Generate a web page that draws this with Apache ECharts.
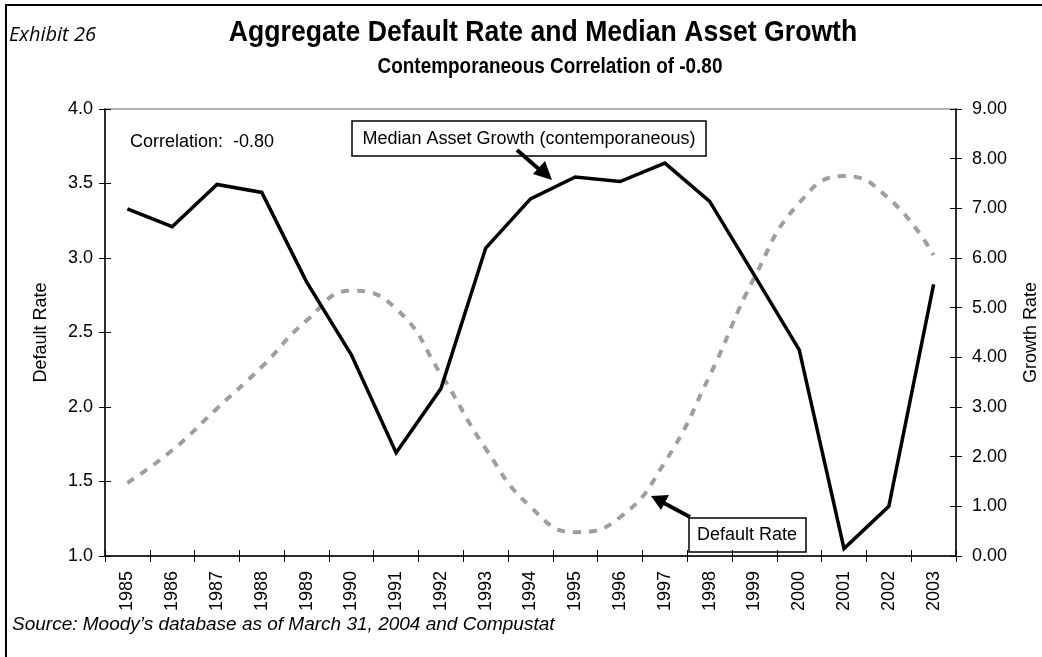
<!DOCTYPE html>
<html>
<head>
<meta charset="utf-8">
<script src="https://cdn.jsdelivr.net/npm/echarts@6/dist/echarts.min.js"></script>
<style>
  html, body { margin: 0; padding: 0; background: #fff; }
  #chart { width: 1042px; height: 657px; }
</style>
</head>
<body>
<div id="chart"></div>
<script>
  const years = ['1985','1986','1987','1988','1989','1990','1991','1992','1993','1994',
                 '1995','1996','1997','1998','1999','2000','2001','2002','2003'];
  const defaultRate = [1.49, 1.71, 1.99, 2.27, 2.58, 2.78, 2.66, 2.22, 1.72, 1.33,
                       1.16, 1.26, 1.63, 2.21, 2.87, 3.37, 3.55, 3.40, 3.02];
  const assetGrowth = [6.99, 6.63, 7.48, 7.32, 5.52, 4.05, 2.08, 3.37, 6.20, 7.19,
                       7.63, 7.54, 7.91, 7.14, 5.65, 4.15, 0.15, 1.00, 5.47];

  const FONT = '"Liberation Sans", Arial, sans-serif';

  let chart = echarts.init(document.getElementById('chart'));

  // plain category axis, second copy only draws the inner half of the ticks
  function xAx(inner) {
    return {
      type: 'category',
      data: years,
      boundaryGap: true,
      position: 'bottom',
      axisLine: { show: !inner, lineStyle: { color: '#000', width: 1.5 } },
      axisTick: { show: true, inside: inner, length: 6, lineStyle: { color: '#000' } },
      axisLabel: {
        show: !inner,
        rotate: 90,
        margin: 15,
        color: '#000',
        fontFamily: FONT,
        fontSize: 18
      },
      splitLine: { show: false }
    };
  }

  function yAx(side, min, max, step, digits, name, inner) {
    return {
      type: 'value',
      position: side,
      min: min,
      max: max,
      interval: step,
      name: inner ? '' : name,
      nameLocation: 'middle',
      nameRotate: 90,
      nameGap: side === 'left' ? 55 : 66,
      nameTextStyle: { color: '#000', fontFamily: FONT, fontSize: 18 },
      axisLine: { show: !inner, lineStyle: { color: '#000', width: 1.5 } },
      axisTick: { show: true, inside: inner, length: 6, lineStyle: { color: '#000' } },
      axisLabel: {
        show: !inner,
        margin: side === 'left' ? 12 : 16,
        color: '#000',
        fontFamily: FONT,
        fontSize: 18,
        formatter: v => v.toFixed(digits)
      },
      splitLine: { show: false }
    };
  }

  let option = {
    animation: false,
    backgroundColor: '#fff',
    grid: {
      left: 105,
      right: 86,
      top: 109,
      bottom: 101,
      containLabel: false,
      outerBoundsMode: 'none',
      show: true,
      borderColor: '#999',
      borderWidth: 1.5
    },
    xAxis: [xAx(false), xAx(true)],
    yAxis: [
      yAx('left', 1, 4, 0.5, 1, 'Default Rate', false),
      yAx('right', 0, 9, 1, 2, 'Growth Rate', false),
      yAx('left', 1, 4, 0.5, 1, '', true),
      yAx('right', 0, 9, 1, 2, '', true)
    ],
    series: [
      {
        name: 'Default Rate',
        type: 'line',
        data: defaultRate,
        yAxisIndex: 0,
        smooth: 0.5,
        symbol: 'none',
        lineStyle: { color: '#9e9e9e', width: 4, type: [8, 8], cap: 'butt' }
      },
      {
        name: 'Median Asset Growth',
        type: 'line',
        data: assetGrowth,
        yAxisIndex: 1,
        symbol: 'none',
        lineStyle: { color: '#000', width: 3.5, join: 'miter' }
      }
    ],
    graphic: [
      // exhibit frame
      {
        type: 'polyline',
        shape: { points: [[6, 657], [6, 5], [1042, 5]] },
        style: { stroke: '#000', lineWidth: 2, fill: null }
      },
      {
        type: 'text', x: 9, y: 35,
        style: { text: 'Exhibit 26', fill: '#000', font: 'italic 20px "Open Sans", sans-serif',
                 verticalAlign: 'middle' }
      },
      // titles are condensed in the original, so squeeze them horizontally
      {
        type: 'text', x: 543, y: 33, scaleX: 0.887, originX: 0, originY: 0,
        style: { text: 'Aggregate Default Rate and Median Asset Growth', fill: '#000',
                 font: 'bold 30px ' + FONT, align: 'center', verticalAlign: 'middle' }
      },
      {
        type: 'text', x: 550, y: 67, scaleX: 0.86, originX: 0, originY: 0,
        style: { text: 'Contemporaneous Correlation of -0.80', fill: '#000',
                 font: 'bold 22px ' + FONT, align: 'center', verticalAlign: 'middle' }
      },
      {
        type: 'text', x: 130, y: 142,
        style: { text: 'Correlation:  -0.80', fill: '#000', font: '18px ' + FONT, verticalAlign: 'middle' }
      },
      // callout: median asset growth
      {
        type: 'rect',
        shape: { x: 352, y: 121, width: 354, height: 35 },
        style: { fill: '#fff', stroke: '#000', lineWidth: 1.5 }
      },
      {
        type: 'text', x: 529, y: 139,
        style: { text: 'Median Asset Growth (contemporaneous)', fill: '#000', font: '18px ' + FONT,
                 align: 'center', verticalAlign: 'middle' }
      },
      {
        type: 'line',
        shape: { x1: 517, y1: 150, x2: 541, y2: 171 },
        style: { stroke: '#000', lineWidth: 4 }
      },
      {
        type: 'polygon',
        shape: { points: [[552, 180], [533, 174], [545, 161]] },
        style: { fill: '#000' }
      },
      // callout: default rate
      {
        type: 'rect',
        shape: { x: 689, y: 518, width: 117, height: 34 },
        style: { fill: '#fff', stroke: '#000', lineWidth: 1.5 }
      },
      {
        type: 'text', x: 747, y: 535,
        style: { text: 'Default Rate', fill: '#000', font: '18px ' + FONT,
                 align: 'center', verticalAlign: 'middle' }
      },
      {
        type: 'line',
        shape: { x1: 690, y1: 517, x2: 662, y2: 502 },
        style: { stroke: '#000', lineWidth: 4 }
      },
      {
        type: 'polygon',
        shape: { points: [[651, 496], [669, 495], [661, 510]] },
        style: { fill: '#000' }
      },
      {
        type: 'text', x: 12, y: 625,
        style: { text: 'Source: Moody\u2019s database as of March 31, 2004 and Compustat', fill: '#000',
                 font: 'italic 19px ' + FONT, verticalAlign: 'middle' }
      }
    ]
  };

  chart.setOption(option);
</script>
</body>
</html>
